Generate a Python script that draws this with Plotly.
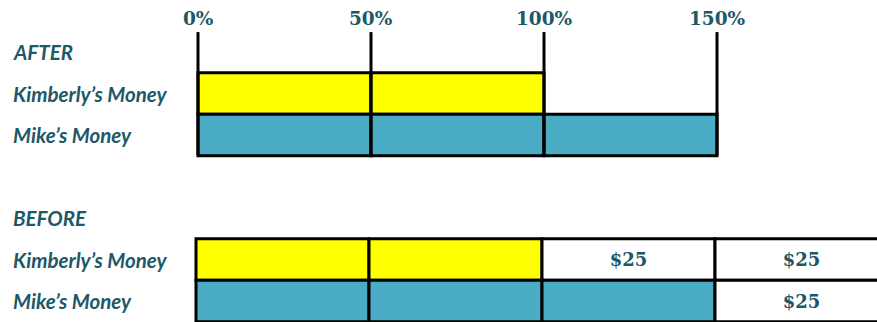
import plotly.graph_objects as go

# ---- data ----
tick_values = [0, 50, 100, 150]
tick_labels = ["0%", "50%", "100%", "150%"]
segment = 50  # each box is 50%

after_rows = [1, 2]
after_segments = [2, 3]           # Kimberly, Mike
after_colors = ["#FFFF00", "#4BACC6"]

before_rows = [5, 6]
before_segments = [2, 3]          # filled boxes
before_extra = [2, 1]             # $25 boxes
before_extra_text = "$25"

row_labels = ["AFTER", "Kimberly’s Money", "Mike’s Money",
              "BEFORE", "Kimberly’s Money", "Mike’s Money"]
row_label_pos = [0, 1, 2, 4, 5, 6]

TEXT = "#205867"
LINE = dict(color="black", width=3)

fig = go.Figure()

# after section (xaxis)
for row, n, col in zip(after_rows, after_segments, after_colors):
    fig.add_trace(
        go.Bar(
            orientation="h",
            y=[row] * n,
            x=[segment] * n,
            base=[i * segment for i in range(n)],
            width=1,
            marker=dict(color=col, line=LINE),
            showlegend=False,
            hoverinfo="skip",
        )
    )

# before section (xaxis2, shifted by 2 px)
for row, n, extra, col in zip(before_rows, before_segments, before_extra, after_colors):
    fig.add_trace(
        go.Bar(
            orientation="h",
            y=[row] * n,
            x=[segment] * n,
            base=[i * segment for i in range(n)],
            width=1,
            marker=dict(color=col, line=LINE),
            xaxis="x2",
            showlegend=False,
            hoverinfo="skip",
        )
    )
    fig.add_trace(
        go.Bar(
            orientation="h",
            y=[row] * extra,
            x=[segment] * extra,
            base=[(n + i) * segment for i in range(extra)],
            width=1,
            marker=dict(color="white", line=LINE),
            text=[before_extra_text] * extra,
            textposition="inside",
            insidetextanchor="middle",
            textangle=0,
            textfont=dict(family="DejaVu Serif", size=18, color=TEXT, weight="bold"),
            xaxis="x2",
            showlegend=False,
            hoverinfo="skip",
        )
    )

# vertical percent lines above the after bars
for v in tick_values:
    fig.add_shape(
        type="line", xref="x", yref="y",
        x0=v, x1=v, y0=-0.48, y1=2.49,
        line=LINE, layer="above",
    )

for v, t in zip(tick_values, tick_labels):
    fig.add_annotation(
        x=v, y=-0.8, xref="x", yref="y", text=t, showarrow=False,
        xanchor="center", yanchor="middle",
        font=dict(family="DejaVu Serif", size=18.5, color=TEXT, weight="bold"),
    )

for pos, t in zip(row_label_pos, row_labels):
    fig.add_annotation(
        x=11 / 877, y=pos, xref="paper", yref="y", text=f"<b><i>{t}</i></b>",
        showarrow=False, xanchor="left", yanchor="middle",
        font=dict(family="Lato", size=20.5, color=TEXT),
    )

px_per_unit = 173 / 50
fig.update_layout(
    width=877,
    height=322,
    margin=dict(l=0, r=0, t=0, b=0, pad=0),
    barmode="overlay",
    plot_bgcolor="white",
    paper_bgcolor="white",
    xaxis=dict(range=[-198 / px_per_unit, (877 - 198) / px_per_unit], visible=False),
    xaxis2=dict(range=[-196 / px_per_unit, (877 - 196) / px_per_unit], visible=False,
                overlaying="x"),
    yaxis=dict(range=[(322 - 52) / 41.5, -52 / 41.5], visible=False),
)

# drop the default page margin so the figure sits at the window corner
fig.write_html(
    "out.html",
    config={"displayModeBar": False},
    post_script="document.body.style.margin='0';",
)
